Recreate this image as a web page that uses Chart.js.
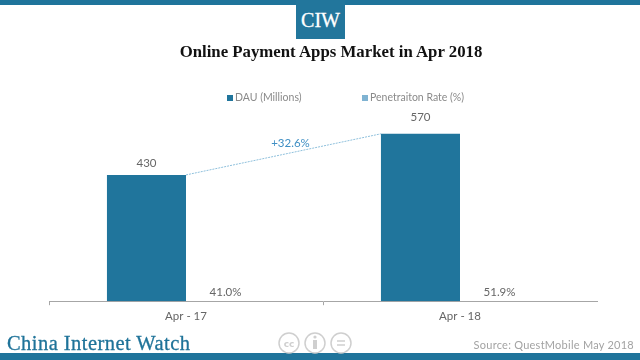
<!DOCTYPE html>
<html>
<head>
<meta charset="utf-8">
<script src="https://cdn.jsdelivr.net/npm/chart.js@4"></script>
<style>
    html, body { margin: 0; padding: 0; background: #fff; }
    #page { position: relative; width: 640px; height: 360px; overflow: hidden; }
    #page canvas { position: absolute; left: 0; top: 0; }
    .band { position: absolute; left: 0; width: 640px; background: #1f749b; }
    #logo {
        position: absolute; left: 296px; top: 0; width: 49px; height: 39px; background: #22769c;
        color: #fff; font: 20px/41px "Liberation Serif", serif; text-align: center;
        -webkit-text-stroke: 0.3px #fff;
    }
    #titulo {
        position: absolute; left: 131px; width: 400px; top: 41px; text-align: center; color: #111;
        font: bold 16.8px/22px "Liberation Serif", serif; white-space: nowrap;
    }
    #legenda {
        position: absolute; left: 227px; top: 90px; height: 14px; white-space: nowrap;
        font: 10.5px/14px Lato, sans-serif; color: #8a8a8a;
    }
    #legenda span { position: absolute; top: 0; }
    #legenda i { display: inline-block; width: 6px; height: 6px; margin-right: 2px; vertical-align: 0; }
    #brand {
        position: absolute; left: 7px; top: 330px; color: #1f7399; white-space: nowrap;
        font: 20.5px/26px "Liberation Serif", serif; letter-spacing: 0.45px;
        -webkit-text-stroke: 0.3px #1f7399;
    }
    #source {
        position: absolute; right: 6px; top: 337px; color: #a3a3a3; white-space: nowrap;
        font: 11px/16px Lato, sans-serif; letter-spacing: 0.25px;
    }
    #cc { position: absolute; left: 277px; top: 331px; }
</style>
</head>
<body>
<div id="page">
    <canvas id="grafico" width="640" height="360"></canvas>
    <div class="band" style="top:0;height:5px"></div>
    <div class="band" style="top:353px;height:7px"></div>
    <div id="logo">CIW</div>
    <div id="titulo">Online Payment Apps Market in Apr 2018</div>
    <div id="legenda"></div>
    <div id="brand">China Internet Watch</div>
    <svg id="cc" width="76" height="24" fill="none" stroke="#cfcfcf" stroke-width="1.5">
        <circle cx="12" cy="12" r="10"/>
        <circle cx="38" cy="12" r="10"/>
        <circle cx="64" cy="12" r="10"/>
        <text x="12" y="16" font-family="DejaVu Sans" font-size="9" font-weight="bold" text-anchor="middle" fill="#cfcfcf" stroke="none">cc</text>
        <path d="M38 9v9" stroke-width="4"/>
        <circle cx="38" cy="6" r="1.6" fill="#cfcfcf" stroke="none"/>
        <path d="M60 10h8M60 14h8"/>
    </svg>
    <div id="source">Source: QuestMobile May 2018</div>
</div>
<script>
const categorias = ['Apr - 17', 'Apr - 18'];
const dau = [430, 570];
const penetracao = [41.0, 51.9];
const crescimento = '+32.6%';
const nomesSeries = ['DAU (Millions)', 'Penetraiton Rate (%)'];

const corDau = '#20759c';
const corPenetracao = '#7fb3d2';

// legenda em HTML porque no original ela nao fica centrada no canvas
const posLegenda = [0, 135];
const coresLegenda = [corDau, corPenetracao];
nomesSeries.forEach((nome, i) => {
    const s = document.createElement('span');
    s.style.left = posLegenda[i] + 'px';
    s.innerHTML = `<i style="background:${coresLegenda[i]}"></i>${nome}`;
    document.getElementById('legenda').appendChild(s);
});

const folgaRotulo = [6, 11];
const rotulosPlugin = {
    id: 'rotulos',
    afterDatasetsDraw(chart) {
        const ctx = chart.ctx;
        ctx.save();
        ctx.font = '11.5px Lato, sans-serif';
        ctx.fillStyle = '#666666';
        ctx.textAlign = 'center';
        ctx.textBaseline = 'bottom';
        chart.getDatasetMeta(0).data.forEach((bar, i) => {
            ctx.fillText(String(dau[i]), bar.x, bar.y - folgaRotulo[i]);
        });
        chart.getDatasetMeta(1).data.forEach((bar, i) => {
            ctx.fillText(penetracao[i].toFixed(1) + '%', bar.x, bar.y - 3);
        });

        // linha tracejada entre as duas barras
        const [b1, b2] = chart.getDatasetMeta(0).data;
        const x1 = b1.x + b1.width / 2, x2 = b2.x - b2.width / 2;
        ctx.strokeStyle = '#8fc0dc';
        ctx.lineWidth = 1;
        ctx.setLineDash([2, 1]);
        ctx.beginPath();
        ctx.moveTo(x1, b1.y);
        ctx.lineTo(x2, b2.y);
        ctx.stroke();
        ctx.setLineDash([]);

        ctx.fillStyle = '#3f8fc4';
        ctx.fillText(crescimento, (x1 + x2) / 2 + 7, (b1.y + b2.y) / 2 - 5);
        ctx.restore();
    }
};

new Chart(document.getElementById('grafico').getContext('2d'), {
    type: 'bar',
    data: {
        labels: categorias,
        datasets: [
            { label: nomesSeries[0], data: dau, backgroundColor: corDau, yAxisID: 'y' },
            { label: nomesSeries[1], data: penetracao, backgroundColor: 'transparent', yAxisID: 'y1' }
        ]
    },
    options: {
        responsive: false,
        animation: false,
        layout: { padding: { left: 49, right: 43, top: 125, bottom: 33 } },
        datasets: { bar: { categoryPercentage: 0.577, barPercentage: 1 } },
        plugins: {
            tooltip: { enabled: false },
            title: { display: false },
            legend: { display: false }
        },
        scales: {
            x: {
                grid: {
                    drawOnChartArea: false,
                    tickLength: 4,
                    // sem tick no fim do eixo
                    tickColor: ctx => (ctx.type === 'tick' ? '#a6a6a6' : 'transparent')
                },
                border: { color: '#a6a6a6', width: 1 },
                ticks: { color: '#666666', font: { family: 'Lato, sans-serif', size: 11.5 }, padding: 4 }
            },
            y: { display: false, min: 0, max: 600 },
            y1: { display: false, min: 0, max: 100000 }
        }
    },
    plugins: [rotulosPlugin]
});
</script>
</body>
</html>
